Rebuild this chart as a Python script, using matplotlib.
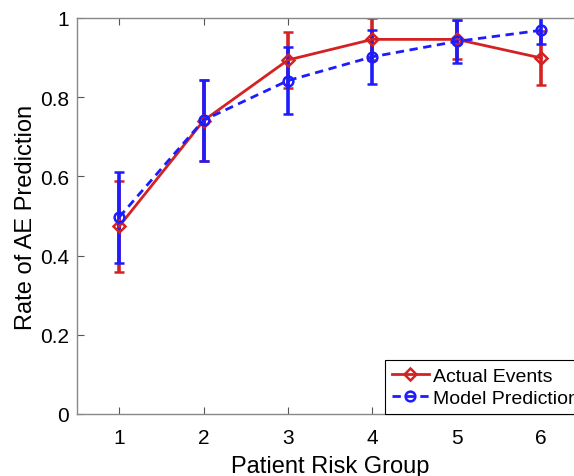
import matplotlib
matplotlib.use('Agg')
import matplotlib.pyplot as plt

plt.rcParams['font.family'] = ['Liberation Sans', 'DejaVu Sans']

groups = [1, 2, 3, 4, 5, 6]
actual = [0.474, 0.741, 0.894, 0.946, 0.946, 0.899]
actual_err = [0.115, 0.102, 0.070, 0.053, 0.050, 0.068]
model = [0.497, 0.742, 0.842, 0.902, 0.941, 0.969]
model_err = [0.115, 0.102, 0.084, 0.068, 0.055, 0.035]

red = '#d42222'
blue = '#1c1cff'

fig = plt.figure(figsize=(5.74, 4.77), dpi=100)
# axes reach past the right edge of the picture, as in the cropped original
ax = fig.add_axes([77 / 574, 62 / 477, 506.4 / 574, 396 / 477])

eb1 = ax.errorbar(groups, actual, yerr=actual_err, color=red, lw=2, elinewidth=2.6,
                  capsize=3.3, capthick=2.4, marker='D', markersize=6.5,
                  markerfacecolor='none', markeredgewidth=1.8)
eb2 = ax.errorbar(groups, model, yerr=model_err, color=blue, lw=2, ls=(0, (3, 2)),
                  elinewidth=2.6, capsize=3.3, capthick=2.4, marker='o', markersize=7,
                  markerfacecolor='none', markeredgewidth=1.8)

ax.set_xlim(0.5, 6.5)
ax.set_ylim(0, 1)
ax.set_xticks(groups)
ax.set_yticks([0, 0.2, 0.4, 0.6, 0.8, 1])
ax.set_yticklabels(['0', '0.2', '0.4', '0.6', '0.8', '1'])
ax.tick_params(direction='in', top=True, right=True, length=5, width=0.8,
               color='#555555', labelsize=15)
ax.tick_params(axis='x', pad=10)
ax.tick_params(axis='y', pad=5.5)
for s in ax.spines.values():
    s.set_color('#888888')
    s.set_linewidth(1)

ax.set_xlabel('Patient Risk Group', fontsize=17, labelpad=6)
ax.set_ylabel('Rate of AE Prediction', fontsize=17, labelpad=2)

# legend shows only the line + marker, no error bars
leg = ax.legend([eb1.lines[0], eb2.lines[0]], ['Actual Events', 'Model Prediction'],
                loc='lower left', bbox_to_anchor=(385 / 574, 62 / 477),
                bbox_transform=fig.transFigure, borderaxespad=0, fontsize=14,
                fancybox=False, framealpha=1, edgecolor='black',
                handlelength=1.9, handletextpad=0.2, borderpad=0.35,
                labelspacing=0.25)
leg.get_frame().set_linewidth(0.8)

fig.savefig('out.png', dpi=100)
